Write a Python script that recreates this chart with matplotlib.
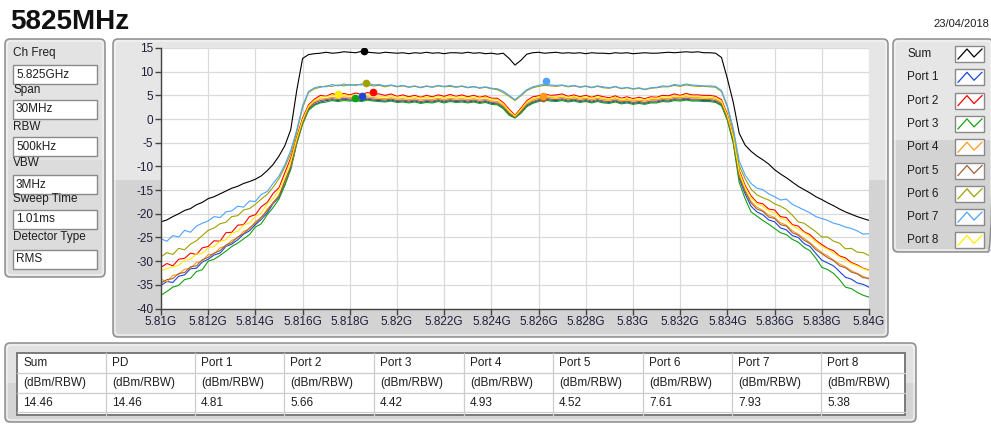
import numpy as np
import matplotlib
matplotlib.use("Agg")
import matplotlib.pyplot as plt
from matplotlib.patches import FancyBboxPatch, Rectangle

plt.rcParams['font.family'] = ['Liberation Sans', 'DejaVu Sans']
plt.rcParams['axes.unicode_minus'] = False

# analyser settings (left panel)
param_labels = ["Ch Freq", "Span", "RBW", "VBW", "Sweep Time", "Detector Type"]
param_values = ["5.825GHz", "30MHz", "500kHz", "3MHz", "1.01ms", "RMS"]
ch_freq_ghz = 5.825
span_ghz = 0.030

title_text = "5825MHz"
date_text = "23/04/2018"

trace_names = ["Sum", "Port 1", "Port 2", "Port 3", "Port 4",
               "Port 5", "Port 6", "Port 7", "Port 8"]
trace_colors = ["#000000", "#1a47d6", "#ff0000", "#12a012", "#ff9a1a",
                "#a0603c", "#a0a000", "#4da3ff", "#ffee00"]

# traces, dBm, sampled every 0.25 MHz from 5.81 to 5.84 GHz
sum_trace = [
    -21.7, -21.3, -20.6, -20.0, -19.3, -18.9, -18.1, -17.6, -16.8, -16.4,
    -15.8, -15.2, -14.6, -14.2, -13.6, -13.2, -12.7, -12.0, -10.9, -9.6,
    -7.8, -5.6, -2.2, 6.0, 12.8, 13.6, 13.8, 13.9, 14.1, 13.9,
    14.0, 14.2, 14.1, 14.0, 14.3, 14.1, 14.0, 13.9, 14.1, 14.0,
    13.9, 14.0, 13.8, 14.0, 13.9, 14.1, 13.9, 14.0, 13.8, 14.0,
    14.0, 13.9, 14.1, 13.9, 14.0, 13.8, 13.9, 13.7, 13.9, 12.8,
    11.4, 12.4, 13.7, 14.0, 14.1, 13.9, 14.0, 14.1, 13.9, 14.0,
    13.9, 14.0, 13.8, 14.0, 13.9, 13.9, 13.8, 14.0, 13.9, 14.0,
    13.8, 13.9, 14.0, 13.9, 13.9, 14.0, 14.1, 14.0, 14.1, 14.2,
    14.1, 14.2, 14.0, 14.0, 13.9, 13.0, 8.5, 3.5, -3.0, -5.5,
    -6.8, -7.8, -8.6, -9.5, -10.7, -11.6, -12.4, -13.3, -14.2, -14.9,
    -15.6, -16.4, -17.0, -17.7, -18.3, -19.0, -19.6, -20.1, -20.6, -21.0, -21.4,
]
port1 = [
    -35.1, -34.3, -34.5, -33.2, -32.9, -31.6, -31.5, -30.2, -29.6, -28.7,
    -28.3, -26.9, -26.4, -25.5, -24.3, -23.6, -22.3, -21.2, -19.8, -17.9,
    -16.5, -13.6, -10.4, -5.0, -0.9, 2.0, 3.1, 3.6, 3.9, 4.1,
    3.9, 4.2, 4.0, 4.1, 3.9, 4.2, 4.0, 3.9, 3.8, 4.0,
    3.7, 3.8, 3.6, 3.8, 3.5, 3.7, 3.6, 3.9, 3.6, 3.9,
    3.7, 3.8, 3.6, 3.8, 3.5, 3.7, 3.3, 3.2, 2.4, 1.0,
    0.3, 1.4, 2.8, 3.5, 3.9, 4.2, 4.0, 3.9, 4.1, 3.8,
    4.0, 3.7, 3.9, 3.6, 3.9, 3.6, 3.5, 3.8, 3.4, 3.6,
    3.3, 3.5, 3.3, 3.6, 3.6, 3.9, 3.8, 4.1, 4.0, 4.2,
    4.0, 4.0, 3.9, 3.9, 3.7, 3.0, 0.0, -4.8, -12.6, -15.8,
    -18.4, -19.6, -20.2, -21.3, -21.7, -23.0, -23.4, -24.6, -25.0, -26.3,
    -26.9, -28.4, -29.8, -30.4, -31.0, -32.2, -33.4, -33.8, -34.6, -34.9, -35.5,
]
port2 = [
    -31.3, -30.5, -31.0, -29.6, -29.4, -28.3, -28.6, -27.2, -26.9, -25.7,
    -25.8, -24.0, -23.9, -22.4, -22.3, -20.6, -20.2, -18.5, -17.6, -15.7,
    -14.5, -11.3, -8.2, -3.8, 0.2, 3.0, 4.2, 5.0, 4.8, 5.4,
    5.0, 5.4, 5.1, 5.5, 5.2, 5.6, 5.3, 5.3, 5.0, 5.3,
    4.8, 5.1, 4.7, 5.0, 4.6, 5.0, 4.7, 5.1, 4.8, 5.2,
    4.8, 5.1, 4.7, 5.0, 4.6, 4.9, 4.4, 4.4, 3.5, 2.1,
    0.8, 2.3, 3.9, 4.7, 4.9, 5.3, 5.0, 5.1, 5.3, 4.8,
    5.1, 4.7, 5.0, 4.6, 5.0, 4.7, 4.5, 4.9, 4.4, 4.7,
    4.3, 4.6, 4.3, 4.7, 4.6, 5.0, 4.9, 5.3, 5.0, 5.4,
    5.1, 5.1, 5.0, 5.0, 4.8, 4.1, 1.0, -3.5, -10.8, -14.0,
    -16.2, -17.6, -17.9, -19.0, -19.2, -20.6, -20.8, -22.3, -22.6, -23.8,
    -24.4, -25.6, -26.5, -27.3, -27.8, -28.9, -29.3, -30.3, -30.8, -31.5, -31.9,
]
port3 = [
    -37.2, -36.4, -35.5, -35.1, -33.9, -33.6, -32.2, -31.8, -30.0, -29.6,
    -28.8, -27.9, -26.9, -26.2, -25.3, -24.4, -22.8, -22.1, -20.2, -18.7,
    -16.9, -14.0, -10.6, -5.3, -1.1, 1.8, 2.9, 3.4, 3.6, 3.9,
    3.7, 3.9, 3.8, 3.9, 3.7, 4.0, 3.8, 3.7, 3.6, 3.8,
    3.5, 3.6, 3.4, 3.6, 3.3, 3.5, 3.4, 3.7, 3.4, 3.7,
    3.5, 3.6, 3.4, 3.6, 3.3, 3.5, 3.1, 3.0, 2.2, 0.8,
    0.2, 1.2, 2.6, 3.3, 3.7, 4.0, 3.8, 3.7, 3.9, 3.6,
    3.8, 3.5, 3.7, 3.4, 3.7, 3.4, 3.3, 3.6, 3.2, 3.4,
    3.1, 3.3, 3.1, 3.4, 3.4, 3.7, 3.6, 3.9, 3.8, 4.0,
    3.8, 3.8, 3.7, 3.7, 3.5, 2.8, -0.3, -5.2, -13.4, -16.8,
    -19.6, -20.5, -21.4, -22.2, -23.1, -24.0, -24.4, -25.4, -26.0, -27.1,
    -27.8, -29.4, -31.3, -31.8, -32.6, -33.9, -35.5, -35.8, -36.6, -37.2, -37.6,
]
port4 = [
    -33.8, -34.4, -33.0, -32.8, -31.7, -31.5, -30.3, -30.0, -28.6, -28.5,
    -27.2, -26.8, -25.6, -25.1, -23.7, -23.3, -21.6, -21.0, -19.0, -17.8,
    -16.0, -13.2, -9.8, -4.6, -0.5, 2.4, 3.6, 4.2, 4.3, 4.6,
    4.4, 4.7, 4.5, 4.6, 4.4, 4.7, 4.5, 4.4, 4.3, 4.5,
    4.2, 4.3, 4.1, 4.3, 4.0, 4.2, 4.1, 4.4, 4.1, 4.4,
    4.2, 4.3, 4.1, 4.3, 4.0, 4.2, 3.8, 3.7, 2.9, 1.5,
    0.5, 1.8, 3.3, 4.0, 4.4, 4.9, 4.5, 4.4, 4.6, 4.3,
    4.5, 4.2, 4.4, 4.1, 4.4, 4.1, 4.0, 4.3, 3.9, 4.1,
    3.8, 4.0, 3.8, 4.1, 4.1, 4.4, 4.3, 4.6, 4.5, 4.7,
    4.5, 4.5, 4.4, 4.4, 4.2, 3.5, 0.4, -4.2, -11.8, -15.0,
    -17.4, -18.6, -19.3, -20.3, -20.8, -21.9, -22.4, -23.6, -24.3, -25.2,
    -26.1, -27.2, -28.2, -28.9, -29.8, -30.6, -31.2, -32.0, -32.6, -33.2, -33.8,
]
port5 = [
    -34.6, -33.9, -33.7, -32.6, -32.4, -31.2, -31.0, -29.7, -29.2, -28.3,
    -27.8, -26.6, -26.1, -24.9, -24.2, -23.0, -22.0, -20.7, -19.4, -17.6,
    -16.3, -13.0, -10.1, -4.8, -0.7, 2.2, 3.4, 3.9, 4.1, 4.3,
    4.1, 4.4, 4.2, 4.3, 4.1, 4.4, 4.2, 4.1, 4.0, 4.2,
    3.9, 4.0, 3.8, 4.0, 3.7, 3.9, 3.8, 4.1, 3.8, 4.1,
    3.9, 4.0, 3.8, 4.0, 3.7, 3.9, 3.5, 3.4, 2.6, 1.2,
    0.4, 1.6, 3.0, 3.7, 4.1, 4.5, 4.2, 4.1, 4.3, 4.0,
    4.2, 3.9, 4.1, 3.8, 4.1, 3.8, 3.7, 4.0, 3.6, 3.8,
    3.5, 3.7, 3.5, 3.8, 3.8, 4.1, 4.0, 4.3, 4.2, 4.4,
    4.2, 4.2, 4.1, 4.1, 3.9, 3.2, 0.2, -4.5, -12.2, -15.3,
    -17.7, -19.0, -19.5, -20.7, -21.0, -22.3, -22.6, -24.0, -24.5, -25.6,
    -26.3, -27.6, -28.4, -29.3, -29.9, -31.0, -31.4, -32.3, -32.7, -33.5, -33.6,
]
port6 = [
    -29.1, -28.2, -28.6, -27.3, -27.6, -26.4, -25.7, -24.6, -23.5, -23.0,
    -22.1, -21.8, -20.6, -20.4, -19.2, -18.9, -18.0, -16.9, -15.9, -14.4,
    -12.6, -10.1, -7.3, -2.8, 2.4, 5.6, 6.4, 6.7, 7.0, 6.9,
    7.2, 7.0, 7.3, 7.1, 7.4, 7.2, 7.0, 7.1, 6.8, 7.1,
    6.8, 7.0, 6.7, 6.9, 6.6, 6.9, 6.7, 7.0, 6.8, 6.9,
    6.7, 6.9, 6.6, 6.8, 6.5, 6.7, 6.4, 6.2, 5.6, 4.8,
    3.9, 4.9, 6.0, 6.6, 6.9, 7.1, 7.0, 6.9, 7.1, 6.8,
    7.0, 6.7, 6.9, 6.6, 6.9, 6.6, 6.5, 6.8, 6.4, 6.6,
    6.3, 6.5, 6.2, 6.5, 6.6, 6.8, 6.8, 7.1, 6.9, 7.2,
    7.0, 6.9, 6.9, 6.8, 6.7, 5.8, 2.5, -2.6, -9.8, -12.6,
    -14.8, -16.0, -16.6, -17.1, -17.9, -18.4, -19.1, -20.3, -21.7, -22.0,
    -22.9, -23.8, -24.9, -24.9, -25.8, -26.2, -27.4, -27.3, -28.1, -28.2, -28.8,
]
port7 = [
    -25.3, -25.8, -24.6, -24.9, -23.5, -23.9, -22.6, -22.0, -21.5, -20.6,
    -20.8, -19.6, -19.4, -18.4, -18.6, -17.3, -17.4, -15.9, -15.3, -13.6,
    -12.0, -9.6, -6.6, -2.3, 2.8, 5.8, 6.6, 6.9, 6.8, 7.3,
    7.0, 7.4, 7.1, 7.3, 7.2, 7.6, 7.2, 7.3, 7.0, 7.2,
    6.9, 7.1, 6.8, 7.0, 6.7, 7.0, 6.8, 7.1, 6.9, 7.1,
    6.8, 7.0, 6.7, 6.9, 6.6, 6.8, 6.5, 6.4, 5.9, 5.0,
    4.1, 5.1, 6.2, 6.8, 7.1, 7.4, 7.2, 7.1, 7.2, 6.9,
    7.1, 6.8, 7.0, 6.7, 7.0, 6.8, 6.6, 6.9, 6.5, 6.7,
    6.4, 6.6, 6.3, 6.6, 6.7, 7.0, 6.9, 7.3, 7.1, 7.4,
    7.2, 7.1, 7.0, 7.0, 6.9, 6.0, 2.8, -2.0, -8.8, -11.8,
    -13.6, -14.6, -14.9, -15.8, -16.4, -17.1, -16.9, -18.0, -18.6, -19.2,
    -19.8, -20.6, -21.0, -21.4, -22.0, -22.3, -22.8, -23.1, -23.6, -24.3, -24.2,
]
port8 = [
    -32.0, -31.6, -31.2, -30.9, -29.8, -29.6, -28.5, -28.4, -27.2, -26.9,
    -25.8, -25.5, -24.1, -23.7, -22.4, -21.9, -20.6, -19.8, -17.9, -16.8,
    -15.0, -12.2, -8.8, -4.2, -0.2, 2.7, 3.9, 4.6, 4.7, 5.0,
    4.8, 5.1, 4.9, 5.0, 4.8, 5.1, 4.9, 4.8, 4.7, 4.9,
    4.6, 4.7, 4.5, 4.7, 4.4, 4.6, 4.5, 4.8, 4.5, 4.8,
    4.6, 4.7, 4.5, 4.7, 4.4, 4.6, 4.2, 4.1, 3.2, 1.8,
    0.6, 2.0, 3.6, 4.3, 4.7, 4.9, 4.8, 4.7, 4.9, 4.6,
    4.8, 4.5, 4.7, 4.4, 4.7, 4.4, 4.3, 4.6, 4.2, 4.4,
    4.1, 4.3, 4.1, 4.4, 4.4, 4.7, 4.6, 4.9, 4.8, 5.0,
    4.8, 4.8, 4.7, 4.7, 4.5, 3.8, 0.7, -3.8, -11.2, -14.4,
    -16.6, -17.9, -18.4, -19.4, -19.8, -20.9, -21.4, -22.5, -23.2, -24.0,
    -24.8, -25.9, -26.9, -27.5, -28.3, -29.1, -29.8, -30.5, -31.0, -31.6, -32.0,
]
traces = [sum_trace, port1, port2, port3, port4, port5, port6, port7, port8]

# peak markers (GHz, dBm)
peak_freq = [5.8186, 5.8185, 5.8190, 5.8182, 5.8262, 5.8262, 5.8187, 5.8263, 5.8175]
peak_level = [14.46, 4.81, 5.66, 4.42, 4.93, 4.52, 7.61, 7.93, 5.38]

# bottom table
table_names = ["Sum", "PD", "Port 1", "Port 2", "Port 3", "Port 4",
               "Port 5", "Port 6", "Port 7", "Port 8"]
table_unit = "(dBm/RBW)"
table_values = ["14.46", "14.46", "4.81", "5.66", "4.42", "4.93",
                "4.52", "7.61", "7.93", "5.38"]

x_ticks = [5.81, 5.812, 5.814, 5.816, 5.818, 5.82, 5.822, 5.824,
           5.826, 5.828, 5.83, 5.832, 5.834, 5.836, 5.838, 5.84]
x_tick_labels = ["5.81G", "5.812G", "5.814G", "5.816G", "5.818G", "5.82G",
                 "5.822G", "5.824G", "5.826G", "5.828G", "5.83G", "5.832G",
                 "5.834G", "5.836G", "5.838G", "5.84G"]
y_ticks = [-40, -35, -30, -25, -20, -15, -10, -5, 0, 5, 10, 15]

freq = np.linspace(ch_freq_ghz - span_ghz / 2, ch_freq_ghz + span_ghz / 2, len(sum_trace))

fig = plt.figure(figsize=(9.91, 4.24), dpi=100)
fig.patch.set_facecolor("white")

# background layer in pixel coordinates
bg = fig.add_axes([0, 0, 1, 1])
bg.set_xlim(0, 991)
bg.set_ylim(424, 0)
bg.axis("off")

TXT = "#1e1e1e"


def panel(x0, y0, x1, y1, split, top_col, bot_col):
    box = FancyBboxPatch((x0, y0), x1 - x0, y1 - y0,
                         boxstyle="round,pad=0,rounding_size=5",
                         facecolor=bot_col, edgecolor="none", zorder=1)
    bg.add_patch(box)
    upper = Rectangle((x0, y0), x1 - x0, split - y0, facecolor=top_col,
                      edgecolor="none", zorder=1.1)
    bg.add_patch(upper)
    upper.set_clip_path(box)
    bg.add_patch(FancyBboxPatch((x0 + 2, y0 + 2), x1 - x0 - 4, y1 - y0 - 4,
                                boxstyle="round,pad=0,rounding_size=4",
                                facecolor="none", edgecolor="#f7f7f7", lw=0.8, zorder=1.2))
    bg.add_patch(FancyBboxPatch((x0, y0), x1 - x0, y1 - y0,
                                boxstyle="round,pad=0,rounding_size=5",
                                facecolor="none", edgecolor="#8e8e8e", lw=1.1, zorder=1.3))


# title and date
bg.text(10, 29, title_text, fontsize=20, fontweight="bold", color="#111111", va="baseline")
bg.text(989, 27, date_text, fontsize=8, color=TXT, ha="right", va="baseline")

# left settings panel
panel(5, 39, 105, 277, 160, "#e3e3e3", "#dcdcdc")
label_y = [53, 90, 127, 163, 199, 237]
box_y = [65, 100, 137, 175, 210, 250]
for lab, val, ly, by in zip(param_labels, param_values, label_y, box_y):
    bg.text(13, ly, lab, fontsize=8.5, color=TXT, va="center", zorder=3)
    bg.add_patch(Rectangle((13, by), 84, 18.5, facecolor="white",
                           edgecolor="#8a8a8a", lw=1, zorder=2))
    bg.text(16, by + 9.5, val, fontsize=8.5, color=TXT, va="center", zorder=3)

# graph panel and legend panel
panel(113, 39, 888, 337, 180, "#e6e6e6", "#d3d3d3")
panel(893, 39, 993, 252, 140, "#e6e6e6", "#d3d3d3")
for i, (name, col) in enumerate(zip(trace_names, trace_colors)):
    cy = 54 + i * 23.3
    bg.text(907, cy, name, fontsize=8.5, color=TXT, va="center", zorder=3)
    bg.add_patch(Rectangle((955, cy - 8), 29, 16, facecolor="white",
                           edgecolor="#8a8a8a", lw=1, zorder=2))
    bg.plot([958, 967, 974, 982], [cy + 5, cy - 5, cy + 3, cy - 5],
            color=col, lw=0.9, zorder=3)

# bottom table
panel(5, 343, 916, 422, 383, "#e2e2e2", "#d4d4d4")
col_edges = [17, 106, 195, 284, 374, 464, 553, 643, 732, 821, 905]
row_edges = [353, 373, 393, 412, 415]
bg.add_patch(Rectangle((17, 353), 888, 62, facecolor="white",
                       edgecolor="#7a7a7a", lw=1.4, zorder=2))
for ry in row_edges[1:-1]:
    bg.plot([17, 905], [ry, ry], color="#cccccc", lw=0.9, zorder=2.5)
for cx in col_edges[1:-1]:
    bg.plot([cx, cx], [353, 415], color="#cccccc", lw=0.9, zorder=2.5)
for j, (name, val) in enumerate(zip(table_names, table_values)):
    tx = col_edges[j] + 6
    bg.text(tx, 363, name, fontsize=8.5, color=TXT, va="center", zorder=3)
    bg.text(tx, 383, table_unit, fontsize=8.5, color=TXT, va="center", zorder=3)
    bg.text(tx, 402.5, val, fontsize=8.5, color=TXT, va="center", zorder=3)

# spectrum plot
ax = fig.add_axes([161 / 991, 1 - 308.5 / 424, 708 / 991, 260.5 / 424])
ax.set_facecolor("white")
for name, col, tr in zip(trace_names, trace_colors, traces):
    ax.plot(freq, tr, color=col, lw=0.8, label=name)
for f, lv, col in list(zip(peak_freq, peak_level, trace_colors))[::-1]:
    ax.plot(f, lv, "o", color=col, ms=4.5, mec=col)

ax.set_xlim(5.81, 5.84)
ax.set_ylim(-40, 15)
ax.set_xticks(x_ticks)
ax.set_xticklabels(x_tick_labels)
ax.set_yticks(y_ticks)
ax.grid(True, color="#dadada", lw=0.9)
ax.set_axisbelow(True)
for s in ["top", "right"]:
    ax.spines[s].set_visible(False)
for s in ["left", "bottom"]:
    ax.spines[s].set_color("#444444")
    ax.spines[s].set_linewidth(1)
ax.tick_params(direction="out", length=4, width=1, color="#444444",
               labelsize=8.5, labelcolor="#1e1e3c", pad=1.5)

fig.savefig("out.png", dpi=100)
